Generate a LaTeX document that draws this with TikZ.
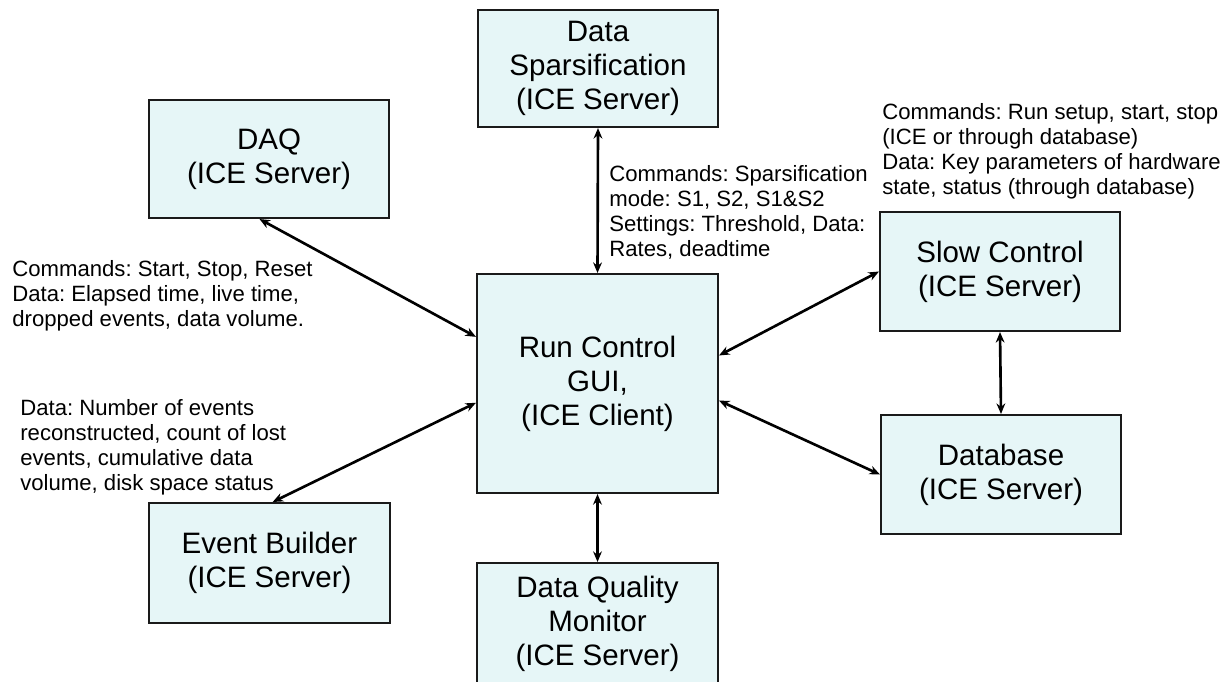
\documentclass[tikz,border=0pt]{standalone}
\usepackage{fontspec}
\setmainfont{Liberation Sans}
\usetikzlibrary{arrows.meta, positioning}
\definecolor{iceFill}{HTML}{E6F6F7}
\definecolor{iceLine}{HTML}{1A1A1A}
\tikzset{
  iceBox/.style={draw=iceLine, line width=1.2pt, fill=iceFill, minimum width=4.8cm, align=center, font=\fontsize{16.8pt}{19.3pt}\selectfont},
  noteText/.style={anchor=north west, inner sep=0pt, align=left, font=\fontsize{12.6pt}{14.2pt}\selectfont},
  link/.style={{Stealth[length=6pt,width=5pt]}-{Stealth[length=6pt,width=5pt]}, line width=1.5pt}
}
\frenchspacing

\begin{document}
\begin{tikzpicture}[x=0.02cm, y=-0.02cm]
    \useasboundingbox (0,0) rectangle (1227,681);
    \clip (0,0) rectangle (1227,681);
    \fill[white] (0,0) rectangle (1227,681);

    % servers round the client
    \node[iceBox, minimum width=4.82cm, minimum height=4.38cm] (run) at (597.5,383.5) {Run Control\\GUI,\\(ICE Client)};
    \node[iceBox, minimum height=2.34cm] (spars) at (598,68.5) {Data\\Sparsification\\(ICE Server)};
    \node[iceBox, minimum height=2.36cm] (daq) at (269,159) {DAQ\\(ICE Server)};
    \node[iceBox, minimum width=4.82cm, minimum height=2.4cm] (eb) at (269.5,563) {Event Builder\\(ICE Server)};
    \node[iceBox, minimum width=4.82cm, minimum height=2.44cm] (dqm) at (597.5,624) {Data Quality\\Monitor\\(ICE Server)};
    \node[iceBox, minimum height=2.38cm] (slow) at (1000,271.5) {Slow Control\\(ICE Server)};
    \node[iceBox, minimum height=2.38cm] (db) at (1001,474.5) {Database\\(ICE Server)};

    % what goes over each link
    \node[noteText] (sparsNote) at (609,165) {Commands: Sparsification\\mode: S1, S2, S1\&S2\\Settings: Threshold, Data:\\Rates, deadtime};
    \node[noteText] (slowNote) at (882,103) {Commands: Run setup, start, stop\\(ICE or through database)\\Data: Key parameters of hardware\\state, status (through database)};
    \node[noteText] (daqNote) at (12,260) {Commands: Start, Stop, Reset\\Data: Elapsed time, live time,\\dropped events, data volume.};
    \node[noteText] (ebNote) at (20,399) {Data: Number of events\\reconstructed, count of lost\\events, cumulative data\\volume, disk space status};

    \draw[link] (spars.south) -- (run.north);
    \draw[link] (daq.261) -- (run.159);
    \draw[link] (eb.87) -- (run.189);
    \draw[link] (dqm.north) -- (run.south);
    \draw[link] (slow.west) -- (run.13);
    \draw[link] (db.west) -- (run.-8);
    \draw[link] (slow.south) -- (db.north);
\end{tikzpicture}
\end{document}
